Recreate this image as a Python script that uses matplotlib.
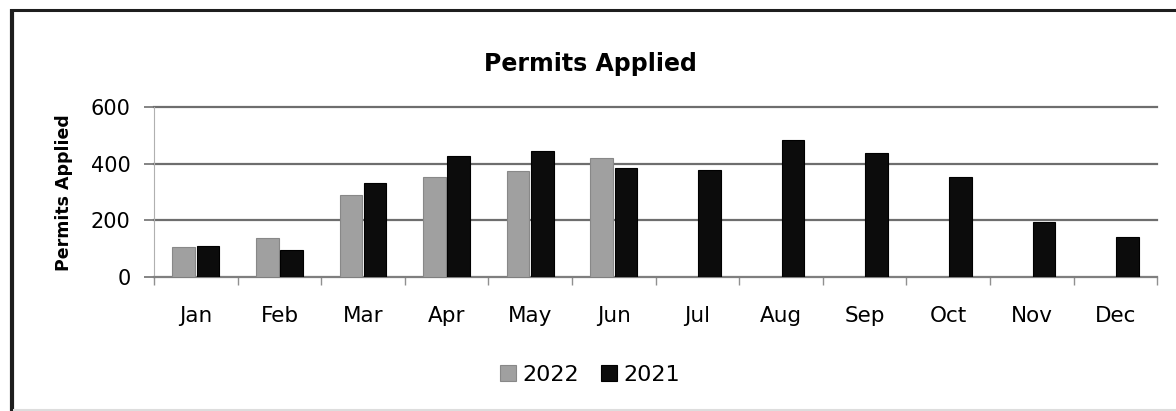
import numpy as np
import matplotlib.pyplot as plt
from matplotlib.lines import Line2D

plt.rcParams["font.family"] = ["DejaVu Sans"]

months = ["Jan", "Feb", "Mar", "Apr", "May", "Jun",
          "Jul", "Aug", "Sep", "Oct", "Nov", "Dec"]
permits_2022 = [106, 138, 291, 352, 375, 422]
permits_2021 = [108, 97, 332, 429, 446, 385, 377, 485, 440, 355, 196, 140]
yticks = [0, 200, 400, 600]

W, H = 1176, 411
fig = plt.figure(figsize=(W / 100, H / 100), dpi=100)
ax = fig.add_axes([0.131, 0.326, 0.853, 0.413])

x = np.arange(len(months))
w = 0.27
ax.bar(x[:len(permits_2022)] - 0.145, permits_2022, width=w,
       color="#a0a0a0", edgecolor="#888888", linewidth=0.8, label="2022", zorder=3)
ax.bar(x + 0.145, permits_2021, width=w,
       color="#0c0c0c", edgecolor="#000000", linewidth=0.8, label="2021", zorder=3)

ax.set_xlim(-0.5, len(months) - 0.5)
ax.set_ylim(0, 600)
ax.set_yticks(yticks)
ax.yaxis.grid(True, color="#6e6e6e", linewidth=1.6, zorder=0)
for gl in ax.get_ygridlines():
    gl.set_clip_on(False)
ax.tick_params(axis="y", labelsize=15, length=7, color="#707070", width=1.2, pad=10)

# month labels centred, tick marks on category boundaries
ax.set_xticks(x)
ax.set_xticklabels(months, fontsize=15.5)
ax.tick_params(axis="x", which="major", length=0, pad=21)
ax.set_xticks(np.arange(-0.5, len(months)), minor=True)
ax.tick_params(axis="x", which="minor", length=6, color="#909090", width=1)

for side in ["top", "right"]:
    ax.spines[side].set_visible(False)
ax.spines["left"].set_color("#b0b0b0")
ax.spines["bottom"].set_color("#808080")
ax.spines["bottom"].set_linewidth(1.4)

ax.set_ylabel("Permits Applied", fontsize=12.5, fontweight="bold", labelpad=13)
fig.text(0.502, 0.845, "Permits Applied", ha="center", va="center",
         fontsize=17, fontweight="bold")

fig.legend(loc="center", bbox_to_anchor=(0.502, 0.088), ncol=2, frameon=False,
           fontsize=16, handlelength=0.7, handleheight=0.7, handletextpad=0.3,
           columnspacing=1.0)

# outer chart frame: heavy top and left edges, faint bottom edge
frame = dict(transform=fig.transFigure, solid_capstyle="butt")
fig.lines.append(Line2D([11.5 / W, 11.5 / W], [0, 1 - 8.8 / H],
                        color="#1e1e1e", linewidth=3.0, **frame))
fig.lines.append(Line2D([10 / W, 1], [1 - 10 / H, 1 - 10 / H],
                        color="#1e1e1e", linewidth=2.2, **frame))
fig.lines.append(Line2D([13 / W, 1], [1.5 / H, 1.5 / H],
                        color="#dddddd", linewidth=1.5, **frame))

fig.savefig("out.png", dpi=100)
